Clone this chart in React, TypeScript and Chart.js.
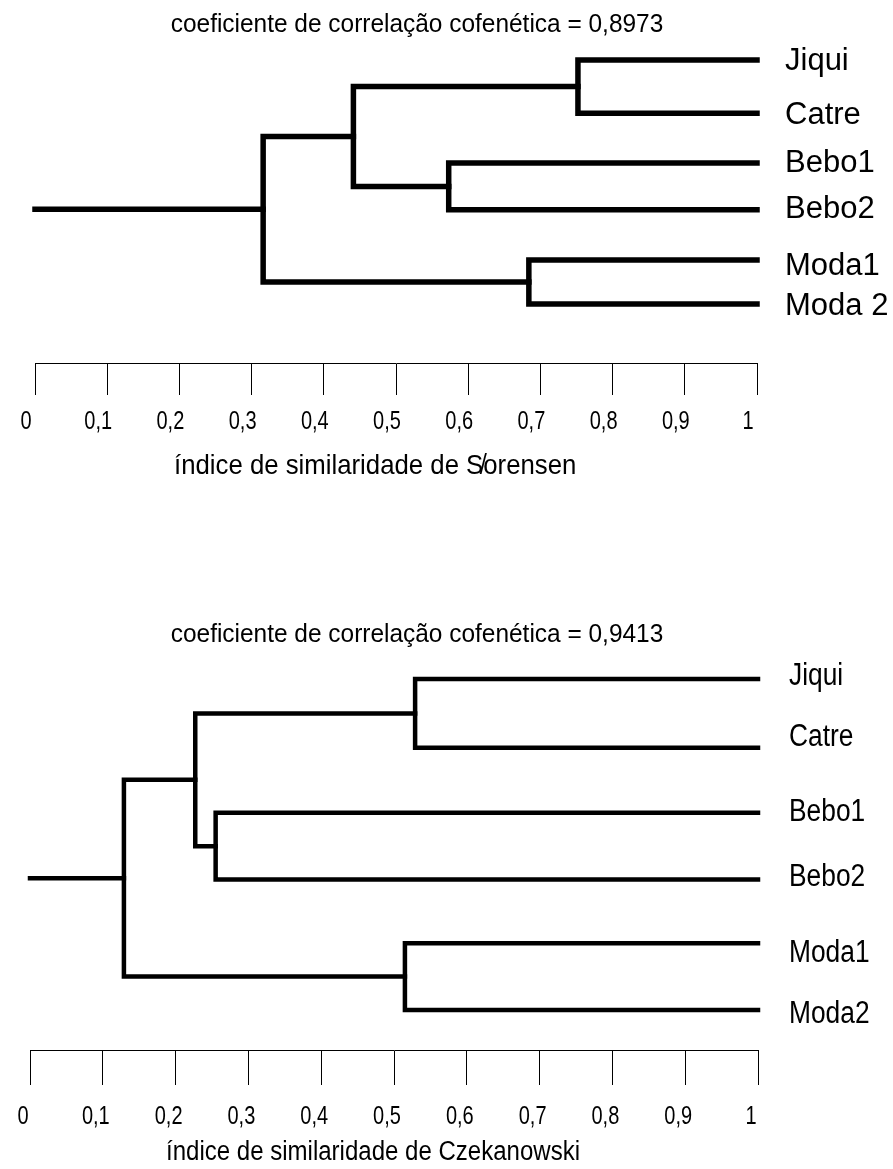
import React, { useEffect, useRef } from 'react';
import { Chart, registerables } from 'chart.js';

Chart.register(...registerables);

// ---------- data ----------
const leavesSorensen = ['Jiqui', 'Catre', 'Bebo1', 'Bebo2', 'Moda1', 'Moda 2'];
const leavesCzekanowski = ['Jiqui', 'Catre', 'Bebo1', 'Bebo2', 'Moda1', 'Moda2'];
// vertical order position of each leaf (leaf axis units)
const leafPosSorensen = [0, 1.09, 2.11, 3.07, 4.1, 5];
const leafPosCzekanowski = [0, 1.04, 2.02, 3.03, 3.99, 5];
// merges: [childA, childB, similarity]; nodes 0-5 are leaves, 6+ are merges in order
const mergesSorensen: [number, number, number][] = [
  [0, 1, 0.752],
  [2, 3, 0.573],
  [6, 7, 0.441],
  [4, 5, 0.684],
  [8, 9, 0.316],
];
const mergesCzekanowski: [number, number, number][] = [
  [0, 1, 0.529],
  [2, 3, 0.255],
  [6, 7, 0.227],
  [4, 5, 0.515],
  [8, 9, 0.129],
];
const tickLabels = ['0', '0,1', '0,2', '0,3', '0,4', '0,5', '0,6', '0,7', '0,8', '0,9', '1'];
const titleSorensen = 'coeficiente de correlação cofenética = 0,8973';
const titleCzekanowski = 'coeficiente de correlação cofenética = 0,9413';
const axisTitleSorensen = 'índice de similaridade de S\u0338orensen';
const axisTitleCzekanowski = 'índice de similaridade de Czekanowski';

const FONT = "'Liberation Sans', Arial, Helvetica, sans-serif";

type Pt = { x: number; y: number };

function buildSegments(leafPos: number[], merges: [number, number, number][]): Pt[][] {
  const nodes: Pt[] = leafPos.map((y) => ({ x: 1, y }));
  const segs: Pt[][] = [];
  merges.forEach(([a, b, s]) => {
    const A = nodes[a];
    const B = nodes[b];
    segs.push([
      { x: A.x, y: A.y },
      { x: s, y: A.y },
      { x: s, y: B.y },
      { x: B.x, y: B.y },
    ]);
    nodes.push({ x: s, y: (A.y + B.y) / 2 });
  });
  const root = nodes[nodes.length - 1];
  segs.push([
    { x: 0, y: root.y },
    { x: root.x, y: root.y },
  ]);
  return segs;
}

function drawText(
  ctx: CanvasRenderingContext2D,
  text: string,
  x: number,
  y: number,
  size: number,
  sx: number,
  align: CanvasTextAlign,
  baseline: CanvasTextBaseline
) {
  ctx.save();
  ctx.translate(x, y);
  ctx.scale(sx, 1);
  ctx.font = `${size}px ${FONT}`;
  ctx.fillStyle = '#000';
  ctx.textAlign = align;
  ctx.textBaseline = baseline;
  ctx.fillText(text, 0, 0);
  ctx.restore();
}

type Spec = {
  top: number;
  height: number;
  padTop: number;
  padLeft: number;
  padRight: number;
  yMin: number;
  yMax: number;
  axisH: number;
  tickLength: number;
  tickBaseline: number;
  tickSize: number;
  tickScale: number;
  labelOffset: number;
  lineWidth: number;
  titleX: number;
  titleY: number;
  titleSize: number;
  titleScale: number;
  labelGap: number;
  labelSize: number;
  labelScale: number;
  labelNudge: number[];
  axisTitleX: number;
  axisTitleY: number;
  axisTitleSize: number;
  axisTitleScale: number;
};

const specTop: Spec = {
  top: 0,
  height: 500,
  padTop: 35.6,
  padLeft: 35,
  padRight: 136,
  yMin: -0.5,
  yMax: 6.209,
  axisH: 137,
  tickLength: 32,
  tickBaseline: 429,
  tickSize: 25,
  tickScale: 0.8,
  labelOffset: -9,
  lineWidth: 5.5,
  titleX: 417,
  titleY: 32,
  titleSize: 26,
  titleScale: 0.94,
  labelGap: 28,
  labelSize: 31,
  labelScale: 1,
  labelNudge: [1, 2, 0, 0, 6, 2],
  axisTitleX: 174,
  axisTitleY: 474,
  axisTitleSize: 28,
  axisTitleScale: 0.92,
};

const specBottom: Spec = {
  top: 560,
  height: 609,
  padTop: 85.9,
  padLeft: 30,
  padRight: 135,
  yMin: -0.5,
  yMax: 5.604,
  axisH: 119,
  tickLength: 35,
  tickBaseline: 564,
  tickSize: 25,
  tickScale: 0.8,
  labelOffset: -7,
  lineWidth: 4.5,
  titleX: 417,
  titleY: 82,
  titleSize: 26,
  titleScale: 0.94,
  labelGap: 31,
  labelSize: 31,
  labelScale: 0.85,
  labelNudge: [-3, -10, 0, -2, 10, 4],
  axisTitleX: 166,
  axisTitleY: 600,
  axisTitleSize: 27,
  axisTitleScale: 0.89,
};

function Dendrogram(props: {
  spec: Spec;
  leaves: string[];
  leafPos: number[];
  merges: [number, number, number][];
  title: string;
  axisTitle: string;
}) {
  const { spec, leaves, leafPos, merges, title, axisTitle } = props;
  const ref = useRef<HTMLCanvasElement | null>(null);

  useEffect(() => {
    if (!ref.current) return;
    const segs = buildSegments(leafPos, merges);
    const textPlugin = {
      id: 'dendroText',
      afterDraw(chart: any) {
        const ctx = chart.ctx as CanvasRenderingContext2D;
        const ys = chart.scales.y;
        const xs = chart.scales.x;
        drawText(ctx, title, spec.titleX, spec.titleY, spec.titleSize, spec.titleScale, 'center', 'alphabetic');
        leaves.forEach((name, i) => {
          drawText(
            ctx,
            name,
            xs.getPixelForValue(1) + spec.labelGap,
            ys.getPixelForValue(leafPos[i]) + spec.labelNudge[i],
            spec.labelSize,
            spec.labelScale,
            'left',
            'middle'
          );
        });
        // tick labels at the x-scale's own tick positions (condensed face)
        xs.ticks.forEach((_t: any, i: number) => {
          const label = tickLabels[i];
          if (label === undefined) return;
          drawText(
            ctx,
            label,
            xs.getPixelForTick(i) + spec.labelOffset,
            spec.tickBaseline,
            spec.tickSize,
            spec.tickScale,
            'center',
            'alphabetic'
          );
        });
        drawText(ctx, axisTitle, spec.axisTitleX, spec.axisTitleY, spec.axisTitleSize, spec.axisTitleScale, 'left', 'alphabetic');
      },
    };

    const chart = new Chart(ref.current, {
      type: 'scatter',
      data: {
        datasets: segs.map((s) => ({
          data: s,
          showLine: true,
          borderColor: '#000',
          backgroundColor: '#000',
          borderWidth: spec.lineWidth,
          borderCapStyle: 'square' as const,
          borderJoinStyle: 'miter' as const,
          pointRadius: 0,
          pointHoverRadius: 0,
          tension: 0,
          clip: false as any,
        })),
      },
      options: {
        responsive: false,
        animation: false,
        devicePixelRatio: 1,
        events: [],
        layout: {
          padding: { top: spec.padTop, left: spec.padLeft, right: spec.padRight, bottom: 0 },
          autoPadding: false,
        } as any,
        plugins: {
          legend: { display: false },
          tooltip: { enabled: false },
          title: { display: false },
        },
        scales: {
          x: {
            type: 'linear',
            position: 'bottom',
            min: 0,
            max: 1,
            afterFit: (scale: any) => {
              scale.height = spec.axisH;
            },
            border: { display: true, color: '#000', width: 1 },
            grid: {
              display: true,
              drawOnChartArea: false,
              drawTicks: true,
              tickLength: spec.tickLength,
              color: '#000',
              tickColor: '#000',
              tickWidth: 1,
            },
            ticks: {
              display: false,
              stepSize: 0.1,
              autoSkip: false,
              maxRotation: 0,
              minRotation: 0,
              callback: (_v: any, i: number) => tickLabels[i],
            },
          },
          y: {
            type: 'linear',
            display: false,
            reverse: true,
            min: spec.yMin,
            max: spec.yMax,
          },
        },
      },
      plugins: [textPlugin],
    } as any);
    return () => chart.destroy();
  }, []);

  return (
    <canvas
      ref={ref}
      width={893}
      height={spec.height}
      style={{ position: 'absolute', left: 0, top: spec.top, width: 893, height: spec.height, display: 'block' }}
    />
  );
}

export default function App() {
  return (
    <div style={{ position: 'absolute', left: 0, top: 0, width: 893, height: 1169, background: '#fff' }}>
      <Dendrogram
        spec={specTop}
        leaves={leavesSorensen}
        leafPos={leafPosSorensen}
        merges={mergesSorensen}
        title={titleSorensen}
        axisTitle={axisTitleSorensen}
      />
      <Dendrogram
        spec={specBottom}
        leaves={leavesCzekanowski}
        leafPos={leafPosCzekanowski}
        merges={mergesCzekanowski}
        title={titleCzekanowski}
        axisTitle={axisTitleCzekanowski}
      />
    </div>
  );
}
